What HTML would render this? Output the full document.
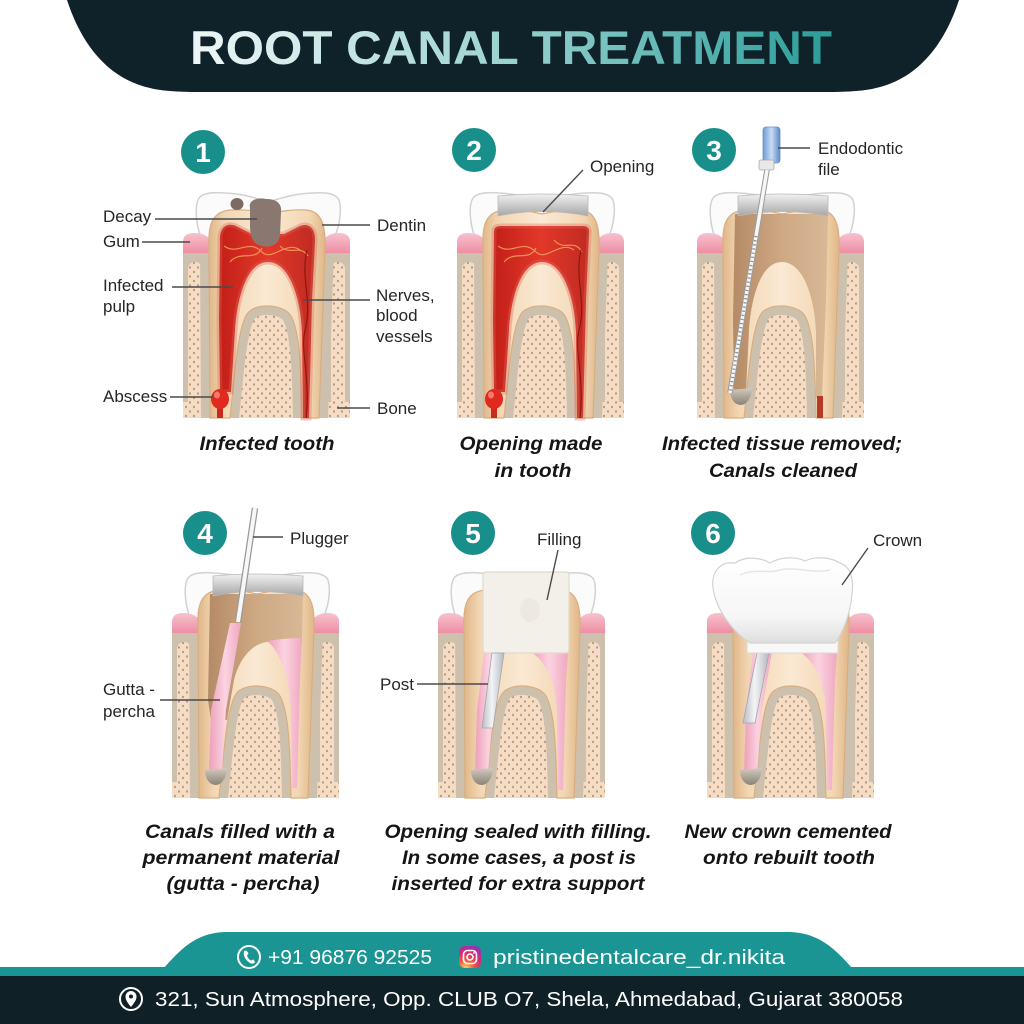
<!DOCTYPE html>
<html><head><meta charset="utf-8"><style>
html,body{margin:0;padding:0;background:#fff;}
svg{display:block;}
.lb{font-family:"Liberation Sans",Arial,sans-serif;font-size:17px;fill:#262626;}
.cap{font-family:"Liberation Sans",Arial,sans-serif;font-size:19px;font-weight:bold;font-style:italic;fill:#151515;}
.num{font-family:"Liberation Sans",Arial,sans-serif;font-size:28px;font-weight:bold;fill:#fff;}
.ln{stroke:#4a4a4a;stroke-width:1.4;fill:none;}
.ft{font-family:"Liberation Sans",Arial,sans-serif;fill:#fff;}
</style></head><body>
<svg width="1024" height="1024" viewBox="0 0 1024 1024" xmlns="http://www.w3.org/2000/svg">
<defs>
 <pattern id="dots" width="8" height="9" patternUnits="userSpaceOnUse">
  <rect width="8" height="9" fill="#f4dcc5"/>
  <ellipse cx="2" cy="2" rx="1" ry="1.2" fill="#b99272"/>
  <ellipse cx="6" cy="6.5" rx="1" ry="1.2" fill="#b99272"/>
 </pattern>
 <linearGradient id="dentin" x1="0" x2="1" y1="0" y2="0">
  <stop offset="0" stop-color="#e0b688"/><stop offset="0.14" stop-color="#f3d7b4"/>
  <stop offset="0.5" stop-color="#fae9d3"/><stop offset="0.86" stop-color="#f3d7b4"/>
  <stop offset="1" stop-color="#e0b688"/>
 </linearGradient>
 <linearGradient id="gum" x1="0" x2="0" y1="0" y2="1">
  <stop offset="0" stop-color="#f7c2cd"/><stop offset="1" stop-color="#ee8ea4"/>
 </linearGradient>
 <linearGradient id="red" x1="0" x2="1" y1="0" y2="0">
  <stop offset="0" stop-color="#c21f17"/><stop offset="0.5" stop-color="#e2382a"/><stop offset="1" stop-color="#c02a22"/>
 </linearGradient>
 <linearGradient id="brown" x1="0" x2="1" y1="0" y2="0">
  <stop offset="0" stop-color="#b48b66"/><stop offset="0.5" stop-color="#cda883"/><stop offset="1" stop-color="#d8b896"/>
 </linearGradient>
 <linearGradient id="pink" x1="0" x2="1" y1="0" y2="0">
  <stop offset="0" stop-color="#ee9fba"/><stop offset="0.5" stop-color="#fbd3e1"/><stop offset="1" stop-color="#f0a7bf"/>
 </linearGradient>
 <linearGradient id="silver" x1="0" x2="0" y1="0" y2="1">
  <stop offset="0" stop-color="#f1f1f1"/><stop offset="1" stop-color="#a6a6a6"/>
 </linearGradient>
 <linearGradient id="plug" x1="0" x2="0" y1="0" y2="1">
  <stop offset="0" stop-color="#d2cabe"/><stop offset="1" stop-color="#8c8377"/>
 </linearGradient>
 <linearGradient id="post" x1="0" x2="1" y1="0" y2="0">
  <stop offset="0" stop-color="#b9bcc4"/><stop offset="0.45" stop-color="#f3f4f6"/><stop offset="1" stop-color="#b5b8c0"/>
 </linearGradient>
 <linearGradient id="crown" x1="0" x2="0" y1="0" y2="1">
  <stop offset="0" stop-color="#ffffff"/><stop offset="0.7" stop-color="#f6f6f6"/><stop offset="1" stop-color="#dedede"/>
 </linearGradient>
 <linearGradient id="blue" x1="0" x2="1" y1="0" y2="0">
  <stop offset="0" stop-color="#6f9bd6"/><stop offset="0.5" stop-color="#c9dcf3"/><stop offset="1" stop-color="#5b88c8"/>
 </linearGradient>
 <linearGradient id="title" x1="190" x2="832" y1="0" y2="0" gradientUnits="userSpaceOnUse">
  <stop offset="0" stop-color="#eef7f6"/><stop offset="0.45" stop-color="#a3d6d4"/><stop offset="1" stop-color="#2a9d99"/>
 </linearGradient>
 <radialGradient id="insta" cx="0.3" cy="1" r="1.2">
  <stop offset="0" stop-color="#fdd36b"/><stop offset="0.3" stop-color="#f35a3c"/><stop offset="0.6" stop-color="#d6287a"/><stop offset="1" stop-color="#7a38c8"/>
 </radialGradient>
 <clipPath id="boneClip" clipPathUnits="userSpaceOnUse"><rect x="183" y="247" width="167" height="171"/></clipPath>

 <path id="toothP" d="M 210 418 L 209 250 C 208 228 210 212 230 210 C 250 209 258 212 268 214 C 278 212 290 209 306 210 C 322 211 326 226 325 250 L 319 418 L 302 418 C 301 370 300 332 291 316 C 284 304 255 302 247 314 C 238 328 235 370 230 418 Z"/>

 <g id="base">
  <rect x="183" y="245" width="167" height="173" fill="url(#dots)"/>
  <rect x="183" y="245" width="30" height="160" fill="#cdc1ae"/>
  <rect x="320" y="245" width="30" height="160" fill="#cdc1ae"/>
  <rect x="188" y="262" width="14" height="156" rx="7" fill="url(#dots)"/>
  <rect x="331" y="262" width="14" height="156" rx="7" fill="url(#dots)"/>
  <rect x="183" y="402" width="167" height="16" fill="url(#dots)"/>
  <use href="#toothP" fill="#cdc1ae" stroke="#cdc1ae" stroke-width="18" clip-path="url(#boneClip)"/>
  <path d="M183,253 L183,242 Q183,233 194,233 Q208,233 212,243 L212,253 Z" fill="url(#gum)"/>
  <path d="M321,253 L322,243 Q326,233 339,233 Q350,233 350,242 L350,253 Z" fill="url(#gum)"/>
 </g>
 <path id="enamel" d="M 203 242 C 196 228 194 206 199 198 C 203 193 212 192 225 193 C 245 194 255 198 268 202 C 282 198 292 194 312 193 C 328 192 336 194 339 200 C 342 210 340 228 332 242 Z" fill="#fbfbfb" stroke="#d2d2d2" stroke-width="1.5"/>
 <path id="silverB" d="M 224 196 Q 268 192 314 196 L 314 216 Q 268 207 224 216 Z" fill="url(#silver)" stroke="#b9b9b9" stroke-width="0.8"/>
 <path id="plugP" d="M 216 390 L 238 388 C 238 398 232 405 227 405 C 220 405 216 398 216 390 Z" fill="url(#plug)"/>
 <path id="pinkL" d="M 229 272 L 248 272 L 238 330 L 233 394 L 220 394 L 222 330 Z" fill="url(#pink)"/>
 <path id="pinkR" d="M 276 272 L 313 272 L 311 300 L 308 410 L 303 410 L 302 332 C 301 305 292 282 276 272 Z" fill="url(#pink)"/>
</defs>

<rect width="1024" height="1024" fill="#fff"/>

<!-- HEADER -->
<path d="M 67 0 C 80 40 105 78 150 88 Q 165 92 200 92 L 826 92 Q 861 92 876 88 C 921 78 946 40 959 0 Z" fill="#0f2129"/>
<text x="190" y="64" textLength="642" lengthAdjust="spacingAndGlyphs" font-family="Liberation Sans, Arial, sans-serif" font-weight="bold" font-size="47" fill="url(#title)">ROOT CANAL TREATMENT</text>

<!-- PANEL 1 -->
<g>
 <use href="#enamel"/>
 <use href="#base"/>
 <use href="#toothP" fill="url(#dentin)" stroke="#d8ae80" stroke-width="1.2"/>
 <path d="M 220 242 C 219 228 226 222 236 226 L 252 234 L 284 234 L 300 226 C 310 222 316 230 315 242 L 312 300 L 309 418 L 303 418 L 302 332 C 301 300 290 262 268 262 C 246 262 237 300 235 330 L 231 392 L 220 392 L 219 320 Z" fill="url(#red)" stroke="#e0665a" stroke-width="5" stroke-opacity="0.35"/>
 <path d="M 224 246 C 238 256 248 238 262 252 C 272 262 286 240 300 250 M 230 262 C 240 250 255 262 262 248 M 280 246 C 290 256 300 244 308 256" stroke="#f6a35c" stroke-width="1.2" fill="none" opacity="0.85"/>
 <path d="M 307 250 C 300 280 313 300 305 330 C 300 352 311 380 306 418" stroke="#8e1713" stroke-width="1.2" fill="none"/>
 <path d="M 250 208 C 248 200 258 197 266 199 C 276 199 282 203 281 212 L 280 235 C 279 245 270 248 262 246 C 252 244 250 236 250 225 Z" fill="#8a7870"/>
 <ellipse cx="237" cy="204" rx="6.5" ry="6" fill="#7c6a63"/>
 <rect x="217" y="398" width="6" height="20" fill="#c92a20"/>
 <ellipse cx="220" cy="399" rx="9" ry="10" fill="#e02a20"/>
 <ellipse cx="217" cy="395" rx="3" ry="3.5" fill="#f27a6c"/>
</g>
<circle cx="203" cy="152" r="22" fill="#198f8b"/>
<text class="num" x="203" y="162" text-anchor="middle">1</text>
<text class="lb" x="103" y="222">Decay</text>
<text class="lb" x="103" y="247">Gum</text>
<text class="lb" x="103" y="291">Infected</text>
<text class="lb" x="103" y="312">pulp</text>
<text class="lb" x="103" y="402">Abscess</text>
<text class="lb" x="377" y="231">Dentin</text>
<text class="lb" x="376" y="301">Nerves,</text>
<text class="lb" x="376" y="321">blood</text>
<text class="lb" x="376" y="342">vessels</text>
<text class="lb" x="377" y="414">Bone</text>
<path class="ln" d="M155 219 L257 219 M142 242 L190 242 M172 287 L233 287 M170 397 L213 397 M322 225 L370 225 M303 300 L370 300 M337 408 L370 408"/>
<text class="cap" x="267" y="450" text-anchor="middle" textLength="135" lengthAdjust="spacingAndGlyphs">Infected tooth</text>

<!-- PANEL 2 -->
<g transform="translate(274,0)">
 <use href="#enamel"/>
 <use href="#base"/>
 <use href="#toothP" fill="url(#dentin)" stroke="#d8ae80" stroke-width="1.2"/>
 <path d="M 220 232 C 220 228 222 226 227 226 L 309 226 C 314 226 316 229 315 234 L 312 300 L 309 418 L 303 418 L 302 332 C 301 300 290 262 268 262 C 246 262 237 300 235 330 L 231 392 L 220 392 L 219 320 Z" fill="url(#red)" stroke="#e0665a" stroke-width="5" stroke-opacity="0.35"/>
 <path d="M 224 246 C 238 256 248 238 262 252 C 272 262 286 240 300 250 M 230 262 C 240 250 255 262 262 248 M 280 240 C 290 252 300 238 308 252" stroke="#f6a35c" stroke-width="1.2" fill="none" opacity="0.85"/>
 <path d="M 307 250 C 300 280 313 300 305 330 C 300 352 311 380 306 418" stroke="#8e1713" stroke-width="1.2" fill="none"/>
 <use href="#silverB"/>
 <rect x="217" y="398" width="6" height="20" fill="#c92a20"/>
 <ellipse cx="220" cy="399" rx="9" ry="10" fill="#e02a20"/>
 <ellipse cx="217" cy="395" rx="3" ry="3.5" fill="#f27a6c"/>
</g>
<circle cx="474" cy="150" r="22" fill="#198f8b"/>
<text class="num" x="474" y="160" text-anchor="middle">2</text>
<text class="lb" x="590" y="172">Opening</text>
<path class="ln" d="M583 170 L543 212"/>
<text class="cap" x="531" y="450" text-anchor="middle" textLength="143" lengthAdjust="spacingAndGlyphs">Opening made</text>
<text class="cap" x="533" y="477" text-anchor="middle" textLength="77" lengthAdjust="spacingAndGlyphs">in tooth</text>

<!-- PANEL 3 -->
<g transform="translate(514,0)">
 <use href="#enamel"/>
 <use href="#base"/>
 <use href="#toothP" fill="url(#dentin)" stroke="#d8ae80" stroke-width="1.2"/>
 <path d="M 221 214 L 314 214 L 312 300 L 308 398 L 302 398 L 302 332 C 301 300 290 262 268 262 C 246 262 237 300 235 330 L 232 392 L 220 392 L 219 320 Z" fill="url(#brown)"/>
 <rect x="303" y="396" width="6" height="22" fill="#b43a2a"/>
 <use href="#silverB"/>
 <use href="#plugP"/>
</g>
<rect x="763" y="127" width="17" height="36" rx="3" fill="url(#blue)" stroke="#6a90c4" stroke-width="0.8"/>
<rect x="759" y="160" width="15" height="10" rx="2" fill="#e8e8e8" stroke="#a8a8a8" stroke-width="0.8"/>
<line x1="767" y1="170" x2="730" y2="393" stroke="#9a9a9a" stroke-width="5.5"/>
<line x1="767" y1="170" x2="730" y2="393" stroke="#f6f6f6" stroke-width="3.5"/>
<line x1="756" y1="236" x2="730" y2="393" stroke="#8f8f8f" stroke-width="3" stroke-dasharray="1.2 3"/>
<circle cx="714" cy="150" r="22" fill="#198f8b"/>
<text class="num" x="714" y="160" text-anchor="middle">3</text>
<text class="lb" x="818" y="154">Endodontic</text>
<text class="lb" x="818" y="175">file</text>
<path class="ln" d="M778 148 L810 148"/>
<text class="cap" x="782" y="450" text-anchor="middle" textLength="240" lengthAdjust="spacingAndGlyphs">Infected tissue removed;</text>
<text class="cap" x="783" y="477" text-anchor="middle" textLength="148" lengthAdjust="spacingAndGlyphs">Canals cleaned</text>

<!-- PANEL 4 -->
<g transform="translate(-11,380)">
 <use href="#enamel"/>
 <use href="#base"/>
 <use href="#toothP" fill="url(#dentin)" stroke="#d8ae80" stroke-width="1.2"/>
 <path d="M 221 214 L 314 214 L 313 262 L 278 262 C 262 264 250 280 245 300 L 238 340 L 222 340 L 219 320 Z" fill="url(#brown)"/>
 <path d="M 278 261 C 290 259 305 258 313 258 L 311 300 L 308 408 L 303 408 L 302 332 C 301 300 292 272 278 261 Z" fill="url(#pink)"/>
 <path d="M 241 243 L 252 243 L 237 330 L 233 392 L 220 392 L 222 330 Z" fill="url(#pink)"/>
 <use href="#silverB"/>
 <use href="#plugP"/>
</g>
<line x1="255" y1="508" x2="238" y2="622" stroke="#9a9a9a" stroke-width="6.5"/>
<line x1="255" y1="508" x2="238" y2="622" stroke="#f7f7f7" stroke-width="4"/>
<circle cx="205" cy="533" r="22" fill="#198f8b"/>
<text class="num" x="205" y="543" text-anchor="middle">4</text>
<text class="lb" x="290" y="544">Plugger</text>
<path class="ln" d="M253 537 L283 537"/>
<text class="lb" x="103" y="695">Gutta -</text>
<text class="lb" x="103" y="717">percha</text>
<path class="ln" d="M160 700 L220 700"/>
<text class="cap" x="240" y="838" text-anchor="middle" textLength="190" lengthAdjust="spacingAndGlyphs">Canals filled with a</text>
<text class="cap" x="241" y="864" text-anchor="middle" textLength="197" lengthAdjust="spacingAndGlyphs">permanent material</text>
<text class="cap" x="243" y="890" text-anchor="middle" textLength="153" lengthAdjust="spacingAndGlyphs">(gutta - percha)</text>

<!-- PANEL 5 -->
<g transform="translate(255,380)">
 <use href="#enamel"/>
 <use href="#base"/>
 <use href="#toothP" fill="url(#dentin)" stroke="#d8ae80" stroke-width="1.2"/>
 <use href="#pinkL"/>
 <use href="#pinkR"/>
 <use href="#plugP"/>
</g>
<rect x="483" y="572" width="86" height="81" rx="3" fill="#f3f0ea" stroke="#e0dace" stroke-width="1.2"/>
<ellipse cx="530" cy="610" rx="10" ry="12" fill="#e9e4dc" opacity="0.7"/>
<polygon points="492,653 504,653 493,728 482,728" fill="url(#post)" stroke="#a3a6ae" stroke-width="0.8"/>
<circle cx="473" cy="533" r="22" fill="#198f8b"/>
<text class="num" x="473" y="543" text-anchor="middle">5</text>
<text class="lb" x="537" y="545">Filling</text>
<path class="ln" d="M558 550 L547 600"/>
<text class="lb" x="380" y="690">Post</text>
<path class="ln" d="M417 684 L488 684"/>
<text class="cap" x="518" y="838" text-anchor="middle" textLength="267" lengthAdjust="spacingAndGlyphs">Opening sealed with filling.</text>
<text class="cap" x="519" y="864" text-anchor="middle" textLength="234" lengthAdjust="spacingAndGlyphs">In some cases, a post is</text>
<text class="cap" x="518" y="890" text-anchor="middle" textLength="253" lengthAdjust="spacingAndGlyphs">inserted for extra support</text>

<!-- PANEL 6 -->
<g transform="translate(524,380)">
 <use href="#base"/>
 <use href="#toothP" fill="url(#dentin)" stroke="#d8ae80" stroke-width="1.2"/>
 <use href="#pinkL"/>
 <use href="#pinkR"/>
 <use href="#plugP"/>
</g>
<polygon points="757,653 769,653 755,723 743,723" fill="url(#post)" stroke="#a3a6ae" stroke-width="0.8"/>
<rect x="747" y="640" width="91" height="13" fill="#f8f8f8" stroke="#d8d8d8" stroke-width="1"/>
<path d="M 713 588 C 711 572 720 561 735 563 C 745 556 760 557 770 563 C 780 557 795 556 805 561 C 815 556 830 557 840 563 C 851 567 854 580 852 594 C 850 615 843 633 835 643 L 750 643 C 733 632 716 610 713 588 Z" fill="url(#crown)" stroke="#d3d3d3" stroke-width="1.2"/>
<path d="M 740 575 C 755 568 770 574 780 570 C 795 566 810 574 830 570" stroke="#e6e6e6" stroke-width="1.5" fill="none"/>
<circle cx="713" cy="533" r="22" fill="#198f8b"/>
<text class="num" x="713" y="543" text-anchor="middle">6</text>
<text class="lb" x="873" y="546">Crown</text>
<path class="ln" d="M868 548 L842 585"/>
<text class="cap" x="788" y="838" text-anchor="middle" textLength="207" lengthAdjust="spacingAndGlyphs">New crown cemented</text>
<text class="cap" x="789" y="864" text-anchor="middle" textLength="172" lengthAdjust="spacingAndGlyphs">onto rebuilt tooth</text>

<!-- FOOTER -->
<path d="M 163 969 C 180 950 195 933 225 932 L 790 932 C 820 933 836 950 853 969 Z" fill="#1a9593"/>
<rect x="0" y="967" width="1024" height="10" fill="#1a9593"/>
<rect x="0" y="976" width="1024" height="48" fill="#0f2027"/>
<circle cx="249" cy="957" r="11" fill="none" stroke="#fff" stroke-width="2"/>
<path d="M 244 951 C 243 955 245 960 250 963 C 252 964 254 964 255 962 L 253.5 959.5 L 251 960.5 C 249 959.5 247.5 957.5 247 955.5 L 248.5 953.5 L 246.5 950.5 Z" fill="#fff"/>
<text class="ft" x="268" y="964" font-size="20" textLength="164" lengthAdjust="spacingAndGlyphs">+91 96876 92525</text>
<rect x="459" y="946" width="22" height="22" rx="6" fill="url(#insta)"/>
<rect x="463.5" y="950.5" width="13" height="13" rx="4" fill="none" stroke="#fff" stroke-width="1.6"/>
<circle cx="470" cy="957" r="3" fill="none" stroke="#fff" stroke-width="1.6"/>
<circle cx="474" cy="953" r="0.9" fill="#fff"/>
<text class="ft" x="493" y="964" font-size="20" textLength="292" lengthAdjust="spacingAndGlyphs">pristinedentalcare_dr.nikita</text>
<circle cx="131" cy="999" r="11" fill="none" stroke="#fff" stroke-width="2"/>
<path d="M 131 1007 C 127 1002 125.5 999.5 125.5 996.5 C 125.5 993.5 128 991 131 991 C 134 991 136.5 993.5 136.5 996.5 C 136.5 999.5 135 1002 131 1007 Z" fill="#fff"/>
<circle cx="131" cy="996.5" r="2" fill="#0f2027"/>
<text class="ft" x="155" y="1006" font-size="20" textLength="748" lengthAdjust="spacingAndGlyphs">321, Sun Atmosphere, Opp. CLUB O7, Shela, Ahmedabad, Gujarat 380058</text>
</svg>
</body></html>
